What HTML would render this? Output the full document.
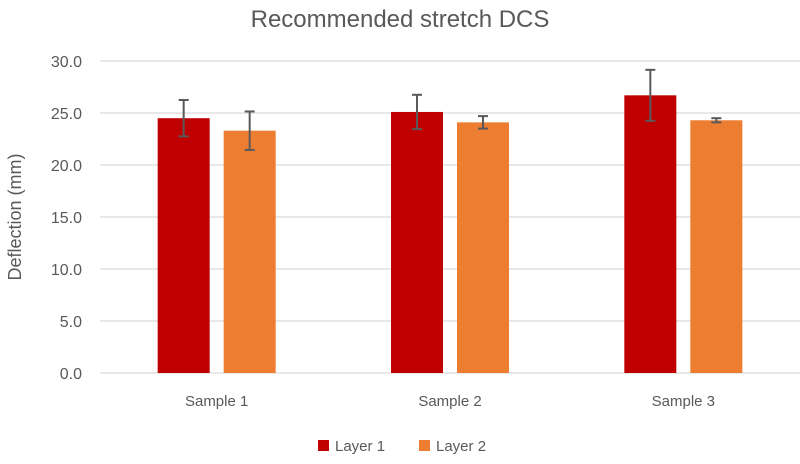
<!DOCTYPE html>
<html><head><meta charset="utf-8"><style>
body{margin:0;background:#fff;}
svg text{font-family:"Liberation Sans",sans-serif;fill:#595959;}
</style></head><body>
<svg id="chart" width="800" height="459" viewBox="0 0 800 459">
<text x="400" y="27" font-size="24" text-anchor="middle">Recommended stretch DCS</text>
<text transform="translate(21,217) rotate(-90)" font-size="18" text-anchor="middle">Deflection (mm)</text>
<g id="grid"></g><g id="bars"></g><g id="xlabels"></g>
<g>
<rect x="318" y="440" width="11" height="11" fill="#c00000"/>
<text x="335" y="451" font-size="15">Layer 1</text>
<rect x="419" y="440" width="11" height="11" fill="#ed7d31"/>
<text x="436" y="451" font-size="15">Layer 2</text>
</g>
</svg>
<script>
const categories = ["Sample 1","Sample 2","Sample 3"];
const layer1 = [24.5, 25.1, 26.7];
const layer2 = [23.3, 24.1, 24.3];
const layer1Err = [1.75, 1.65, 2.45];
const layer2Err = [1.85, 0.6, 0.2];
const yTicks = [0,5,10,15,20,25,30];
const tickLabels = ["0.0","5.0","10.0","15.0","20.0","25.0","30.0"];

const NS="http://www.w3.org/2000/svg";
const x0=100,x1=800,yBase=373,yTop=61,yMax=30;
const y=v=>yBase-(v/yMax)*(yBase-yTop);
const bw=(x1-x0)/categories.length;
const cx=i=>x0+bw*(i+0.5);
function mk(tag,attrs,parent){const e=document.createElementNS(NS,tag);for(const k in attrs)e.setAttribute(k,attrs[k]);parent.appendChild(e);return e;}
const grid=document.getElementById('grid');
yTicks.forEach((t,i)=>{
  const l=mk('line',{x1:x0,x2:x1,y1:y(t),y2:y(t),stroke:'#d9d9d9','stroke-width':1.3},grid);
  
  
  const tx=mk('text',{x:82,y:y(t)+6,'font-size':16,'text-anchor':'end'},grid);
  tx.textContent=tickLabels[i];
  
  
});
const bars=document.getElementById('bars');
function bar(i,val,err,off,color,name){
  const r=mk('rect',{x:cx(i)+off,y:y(val),width:52,height:yBase-y(val),fill:color},bars);
  
  
  const ex=cx(i)+off+26;
  const g=mk('g',{stroke:'#595959','stroke-width':2},bars);
  
  
  mk('line',{x1:ex,x2:ex,y1:y(val+err),y2:y(val-err)},g);
  mk('line',{x1:ex-5,x2:ex+5,y1:y(val+err),y2:y(val+err)},g);
  mk('line',{x1:ex-5,x2:ex+5,y1:y(val-err),y2:y(val-err)},g);
}
const xl=document.getElementById('xlabels');
categories.forEach((c,i)=>{
  bar(i,layer1[i],layer1Err[i],-59,'#c00000','bar-layer1-sample'+(i+1));
  bar(i,layer2[i],layer2Err[i],7,'#ed7d31','bar-layer2-sample'+(i+1));
  const t=mk('text',{x:cx(i),y:406,'font-size':15,'text-anchor':'middle'},xl);
  t.textContent=c;
  
  
});
</script>
</body></html>
